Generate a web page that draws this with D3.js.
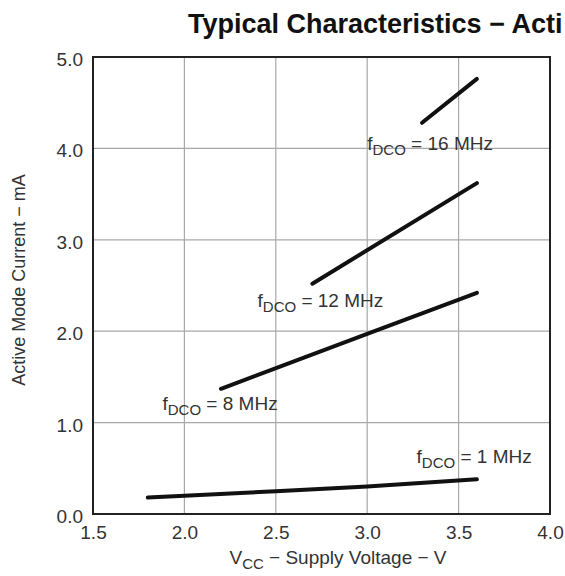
<!DOCTYPE html>
<html>
<head>
<meta charset="utf-8">
<script src="https://cdn.jsdelivr.net/npm/d3@7"></script>
<style>
  body { margin: 0; background: #fff; }
  svg { font-family: "Liberation Sans", Arial, Helvetica, sans-serif; }
</style>
</head>
<body>
<svg id="chart" width="565" height="576"></svg>
<script>
// data
var xTicks = [1.5, 2.0, 2.5, 3.0, 3.5, 4.0];
var yTicks = [0, 1, 2, 3, 4, 5];

var volts1 = [1.8, 2.0, 2.5, 3.0, 3.6];
var amps1 = [0.18, 0.20, 0.25, 0.30, 0.38];
var volts8 = [2.2, 3.0, 3.6];
var amps8 = [1.37, 1.97, 2.42];
var volts12 = [2.7, 3.6];
var amps12 = [2.52, 3.62];
var volts16 = [3.3, 3.6];
var amps16 = [4.28, 4.76];

var series = [
  { f: "1", v: volts1, a: amps1 },
  { f: "8", v: volts8, a: amps8 },
  { f: "12", v: volts12, a: amps12 },
  { f: "16", v: volts16, a: amps16 }
];

// where the labels sit (text start, baseline) in data units
var labelAt = {
  "1": [3.27, 0.56],
  "8": [1.88, 1.14],
  "12": [2.4, 2.27],
  "16": [3.0, 3.98]
};

var svg = d3.select("#chart");

var x = d3.scaleLinear().domain([1.5, 4.0]).range([93, 550]);
var y = d3.scaleLinear().domain([0, 5]).range([514, 57]);

// title (cut at the right edge in the source)
svg.append("text")
  .attr("x", 188)
  .attr("y", 33)
  .attr("font-size", 27)
  .attr("font-weight", "bold")
  .attr("fill", "#111")
  .text("Typical Characteristics \u2212 Acti");

// grid
var grid = svg.append("g");
grid.selectAll(".vg")
  .data(xTicks.slice(1, -1))
  .enter().append("line")
  .attr("x1", d => x(d)).attr("x2", d => x(d))
  .attr("y1", y(0)).attr("y2", y(5))
  .attr("stroke", "#a8a8a8").attr("stroke-width", 1.2);
grid.selectAll(".hg")
  .data(yTicks.slice(1, -1))
  .enter().append("line")
  .attr("x1", x(1.5)).attr("x2", x(4.0))
  .attr("y1", d => y(d)).attr("y2", d => y(d))
  .attr("stroke", "#a8a8a8").attr("stroke-width", 1.2);

// axes (labels only, the frame is drawn below)
var xAxis = svg.append("g")
  .attr("transform", "translate(0," + y(0) + ")")
  .call(d3.axisBottom(x).tickValues(xTicks).tickFormat(d3.format(".1f")).tickSize(0).tickPadding(12));
var yAxis = svg.append("g")
  .attr("transform", "translate(" + x(1.5) + ",0)")
  .call(d3.axisLeft(y).tickValues(yTicks).tickFormat(d3.format(".1f")).tickSize(0).tickPadding(10));
[xAxis, yAxis].forEach(function (g) {
  g.select(".domain").remove();
  g.selectAll("text")
    .attr("font-family", "Liberation Sans, Arial, sans-serif")
    .attr("font-size", 19)
    .attr("fill", "#333");
});
yAxis.selectAll("text").attr("dy", "0.45em");

// labels with white boxes that cut the grid
var line = d3.line()
  .x(d => x(d[0]))
  .y(d => y(d[1]));

series.forEach(function (s) {
  var pos = labelAt[s.f];
  var t = svg.append("text")
    .attr("x", x(pos[0]))
    .attr("y", y(pos[1]))
    .attr("font-size", 19)
    .attr("fill", "#333");
  t.append("tspan").text("f");
  t.append("tspan").attr("dy", 5).attr("font-size", 15).text("DCO");
  t.append("tspan").attr("dy", -5).text(" = " + s.f + " MHz");
  var b = t.node().getBBox();
  svg.insert("rect", "text")
    .attr("x", b.x - 12)
    .attr("y", b.y - 2)
    .attr("width", b.width + 24)
    .attr("height", b.height + 4)
    .attr("fill", "#fff");
});

// curves
svg.append("g")
  .selectAll("path")
  .data(series)
  .enter()
  .append("path")
  .attr("d", s => line(d3.zip(s.v, s.a)))
  .attr("fill", "none")
  .attr("stroke", "#111")
  .attr("stroke-width", 4)
  .attr("stroke-linecap", "round");

// frame
svg.append("rect")
  .attr("x", x(1.5))
  .attr("y", y(5))
  .attr("width", x(4.0) - x(1.5))
  .attr("height", y(0) - y(5))
  .attr("fill", "none")
  .attr("stroke", "#222")
  .attr("stroke-width", 2);

// axis titles
var xt = svg.append("text")
  .attr("x", 338)
  .attr("y", 564)
  .attr("text-anchor", "middle")
  .attr("font-size", 19)
  .attr("fill", "#333");
xt.append("tspan").text("V");
xt.append("tspan").attr("dy", 5).attr("font-size", 15).text("CC");
xt.append("tspan").attr("dy", -5).text(" \u2212 Supply Voltage \u2212 V");

svg.append("text")
  .attr("transform", "translate(25,280) rotate(-90)")
  .attr("text-anchor", "middle")
  .attr("font-size", 18)
  .attr("fill", "#333")
  .text("Active Mode Current \u2212 mA");
</script>
</body>
</html>
